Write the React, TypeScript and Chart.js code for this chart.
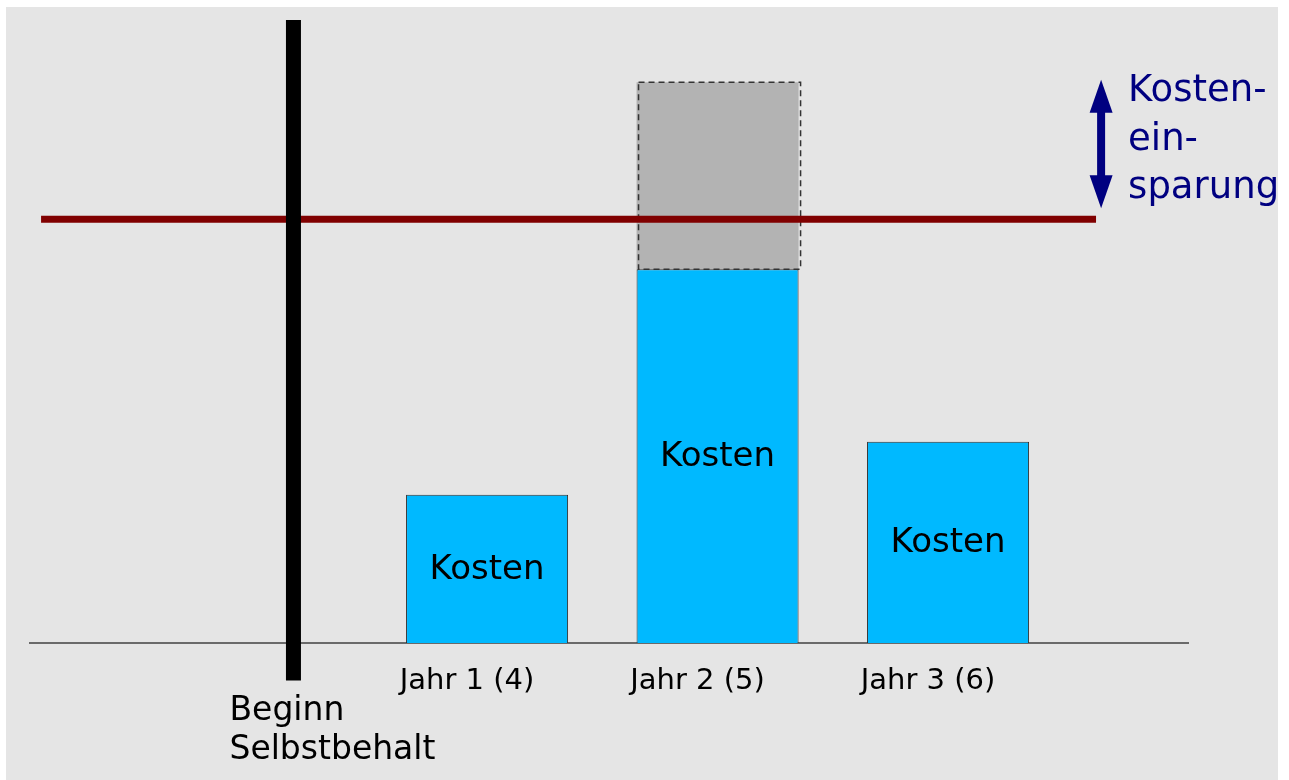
import React, { useEffect, useRef } from "react";
import { Chart, registerables } from "chart.js";

Chart.register(...registerables);

// ---- data ----
const categories = ["Jahr 1 (4)", "Jahr 2 (5)", "Jahr 3 (6)"];
const categoryPositions = [1, 2, 3];
const costValues = [23.8, 60, 32.3];
const savingsValues = [null, 30, null];
const barLabel = "Kosten";
const thresholdValue = 68;
const thresholdRange = [-0.935, 3.642];
const beginValue = 0.16;
const beginRange = [-6, 100];
const beginLabel = ["Beginn", "Selbstbehalt"];
const arrowX = 3.664;
const arrowRange = [69.8, 90.4];
const savingsLabel = ["Kosten-", "ein-", "sparung"];
const xRange = [-0.983, 4.041];
const yRange = [0, 100];

const FONT = "'DejaVu Sans', 'Noto Sans', sans-serif";

const bgPlugin = {
  id: "bgPlugin",
  beforeDraw(chart: any) {
    const ctx = chart.ctx;
    ctx.save();
    ctx.fillStyle = "#ffffff";
    ctx.fillRect(0, 0, chart.width, chart.height);
    ctx.fillStyle = "#e5e5e5";
    ctx.fillRect(6, 7, 1272, 773);
    ctx.restore();
  },
};

const overlayPlugin = {
  id: "overlayPlugin",
  afterDatasetsDraw(chart: any) {
    const ctx = chart.ctx;
    const xs = chart.scales.x;
    const ys = chart.scales.y;
    ctx.save();

    // dashed border of savings box
    const sMeta = chart.getDatasetMeta(1);
    sMeta.data.forEach((el: any, i: number) => {
      if (savingsValues[i] == null) return;
      const p = el.getProps(["x", "y", "base", "width"], true);
      ctx.setLineDash([6, 4]);
      ctx.strokeStyle = "#333333";
      ctx.lineWidth = 1.5;
      ctx.strokeRect(p.x - p.width / 2 + 2, p.y, p.width, p.base - p.y);
      ctx.setLineDash([]);
    });

    // labels in cost bars
    const cMeta = chart.getDatasetMeta(0);
    ctx.fillStyle = "#000000";
    ctx.font = `34px ${FONT}`;
    ctx.textAlign = "center";
    ctx.textBaseline = "middle";
    cMeta.data.forEach((el: any) => {
      const p = el.getProps(["x", "y", "base"], true);
      ctx.fillText(barLabel, p.x, (p.y + p.base) / 2 + 1);
    });

    // threshold line
    ctx.strokeStyle = "#800000";
    ctx.lineWidth = 7;
    ctx.beginPath();
    const ty = ys.getPixelForValue(thresholdValue);
    ctx.moveTo(xs.getPixelForValue(thresholdRange[0]), ty);
    ctx.lineTo(xs.getPixelForValue(thresholdRange[1]), ty);
    ctx.stroke();

    // begin line
    const bx = xs.getPixelForValue(beginValue);
    ctx.strokeStyle = "#000000";
    ctx.lineWidth = 15;
    ctx.beginPath();
    ctx.moveTo(bx, ys.getPixelForValue(beginRange[1]));
    ctx.lineTo(bx, ys.getPixelForValue(beginRange[0]));
    ctx.stroke();

    // begin label
    ctx.fillStyle = "#000000";
    ctx.font = `33px ${FONT}`;
    ctx.textAlign = "left";
    ctx.textBaseline = "alphabetic";
    ctx.fillText(beginLabel[0], bx - 64, 720);
    ctx.fillText(beginLabel[1], bx - 64, 759);

    // savings arrow
    const ax = xs.getPixelForValue(arrowX);
    const aTop = ys.getPixelForValue(arrowRange[1]);
    const aBot = ys.getPixelForValue(arrowRange[0]);
    const headL = 33;
    const headW = 11.5;
    ctx.fillStyle = "#000080";
    ctx.strokeStyle = "#000080";
    ctx.lineWidth = 8;
    ctx.beginPath();
    ctx.moveTo(ax, aTop + headL - 2);
    ctx.lineTo(ax, aBot - headL + 2);
    ctx.stroke();
    ctx.beginPath();
    ctx.moveTo(ax, aTop);
    ctx.lineTo(ax - headW, aTop + headL);
    ctx.lineTo(ax + headW, aTop + headL);
    ctx.closePath();
    ctx.fill();
    ctx.beginPath();
    ctx.moveTo(ax, aBot);
    ctx.lineTo(ax - headW, aBot - headL);
    ctx.lineTo(ax + headW, aBot - headL);
    ctx.closePath();
    ctx.fill();

    // savings label
    ctx.font = `37px ${FONT}`;
    ctx.textAlign = "left";
    ctx.textBaseline = "alphabetic";
    const tx = ax + 27;
    savingsLabel.forEach((t, i) => {
      ctx.fillText(t, tx, 101 + i * 48.5);
    });

    ctx.restore();
  },
};

export default function App() {
  const ref = useRef<HTMLCanvasElement | null>(null);

  useEffect(() => {
    if (!ref.current) return;
    const chart = new Chart(ref.current, {
      type: "bar",
      data: {
        datasets: [
          {
            label: "Kosten",
            data: categoryPositions.map((x, i) => ({ x, y: costValues[i] })),
            backgroundColor: "#00b9ff",
            borderColor: "#2f2f2f",
            borderWidth: 1,
            barPercentage: 0.703,
            categoryPercentage: 1,
          },
          {
            label: "Einsparung",
            data: categoryPositions.map((x, i) => ({ x, y: savingsValues[i] as any })),
            backgroundColor: "#b3b3b3",
            borderWidth: 0,
            barPercentage: 0.703,
            categoryPercentage: 1,
          },
        ],
      },
      options: {
        responsive: false,
        animation: false,
        devicePixelRatio: 1,
        layout: { padding: { left: 30, right: 101, top: 20, bottom: 0 } },
        plugins: {
          legend: { display: false },
          tooltip: { enabled: false },
        },
        scales: {
          x: {
            type: "linear",
            stacked: true,
            min: xRange[0],
            max: xRange[1],
            offset: false,
            grid: { display: false, drawTicks: false },
            border: { display: true, color: "#6a6a6a", width: 2 },
            afterBuildTicks: (scale: any) => {
              scale.ticks = categoryPositions.map((v) => ({ value: v }));
            },
            afterFit: (scale: any) => {
              scale.height = 137;
            },
            ticks: {
              autoSkip: false,
              maxRotation: 0,
              padding: 21,
              labelOffset: -20,
              color: "#000000",
              font: { family: FONT, size: 29 },
              callback: (value: any) => {
                const idx = categoryPositions.indexOf(Number(value));
                return idx >= 0 ? categories[idx] : "";
              },
            },
          },
          y: {
            display: false,
            stacked: true,
            min: yRange[0],
            max: yRange[1],
          },
        },
      } as any,
      plugins: [bgPlugin, overlayPlugin],
    });
    return () => chart.destroy();
  }, []);

  return (
    <div style={{ position: "absolute", left: 0, top: 0, width: 1289, height: 780 }}>
      <canvas ref={ref} width={1289} height={780} style={{ display: "block" }} />
    </div>
  );
}
